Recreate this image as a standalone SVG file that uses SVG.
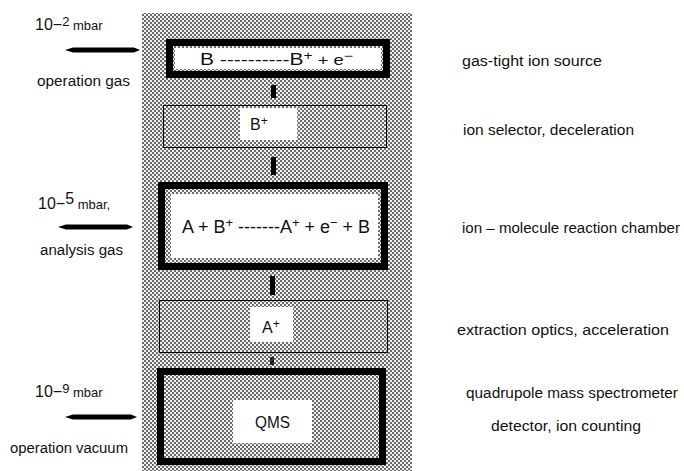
<svg xmlns="http://www.w3.org/2000/svg" width="684" height="471" viewBox="0 0 684 471">
<defs>
<pattern id="dots" width="4" height="4" patternUnits="userSpaceOnUse">
<rect width="4" height="4" fill="#f2f2f2"/>
<rect x="0" y="0" width="2" height="2" fill="#6a6a6a"/>
<rect x="2" y="2" width="2" height="2" fill="#6a6a6a"/>
</pattern>
<style>
text{font-family:"Liberation Sans",Arial,sans-serif;fill:#111}
.lab{font-size:14px}
.box{font-size:16px}
.thick{fill:url(#dots);stroke:#000;stroke-width:7}
.thin{fill:url(#dots);stroke:#000;stroke-width:1}
.patch{fill:#fff}
.bar{fill:#000}
</style>
</defs>
<rect width="684" height="471" fill="#fff"/>
<rect x="142" y="13" width="270" height="458" fill="url(#dots)"/>

<g id="connectors">
<rect class="bar" x="271" y="85" width="5" height="13"/>
<rect class="bar" x="271" y="157" width="5" height="18"/>
<rect class="bar" x="270" y="276" width="5" height="19"/>
<rect class="bar" x="270" y="357" width="4" height="8" opacity="0.8"/>
<path class="bar" d="M65,50 L73,47.5 L134,47.5 L140,50 L134,52.5 L73,52.5 Z"/>
<path class="bar" d="M58,227 L66,224.5 L127,224.5 L133,227 L127,229.5 L66,229.5 Z"/>
<path class="bar" d="M65,417 L73,414.5 L131,414.5 L137,417 L131,419.5 L73,419.5 Z"/>
</g>

<g id="ion-source">
<rect class="thick" x="169.5" y="42.5" width="217" height="32"/>
<rect class="patch" x="175" y="48" width="206" height="21"/>
<text class="box" x="200" y="65" textLength="153" lengthAdjust="spacingAndGlyphs">B ----------B<tspan font-size="12" dy="-5">+</tspan><tspan font-size="14" dy="5"> + e</tspan><tspan font-size="12" dy="-5">−</tspan></text>
</g>

<g id="ion-selector">
<rect class="thin" x="163.5" y="105.5" width="223" height="42"/>
<rect class="patch" x="240" y="108" width="57" height="32"/>
<text class="box" x="250" y="130">B<tspan font-size="12" dy="-5">+</tspan></text>
</g>

<g id="reaction-chamber">
<rect class="thick" x="161.5" y="185.5" width="223" height="81"/>
<rect class="patch" x="171" y="194" width="207" height="64"/>
<text x="182" y="233" font-size="18" textLength="188" lengthAdjust="spacingAndGlyphs">A + B<tspan font-size="13" dy="-6">+</tspan><tspan dy="6"> -------A</tspan><tspan font-size="13" dy="-6">+</tspan><tspan dy="6"> + e</tspan><tspan font-size="13" dy="-6">−</tspan><tspan dy="6"> + B</tspan></text>
</g>

<g id="extraction-optics">
<rect class="thin" x="159.5" y="300.5" width="228" height="52"/>
<rect class="patch" x="250" y="307" width="43" height="35"/>
<text class="box" x="262" y="333">A<tspan font-size="12" dy="-5">+</tspan></text>
</g>

<g id="qms">
<rect class="thick" x="160.5" y="371.5" width="222" height="90"/>
<rect class="patch" x="233" y="400" width="79" height="43"/>
<text class="box" x="255" y="428" textLength="35" lengthAdjust="spacingAndGlyphs">QMS</text>
</g>

<g id="left-labels">
<text x="35" y="30" font-size="16">10−<tspan font-size="13" dy="-4">2</tspan><tspan font-size="13" dy="4"> mbar</tspan></text>
<text class="lab" x="37" y="86" textLength="93" lengthAdjust="spacingAndGlyphs">operation gas</text>
<text x="38" y="209" font-size="16">10−<tspan font-size="16" dy="-5">5</tspan><tspan font-size="13" dy="5"> mbar,</tspan></text>
<text class="lab" x="40" y="255" textLength="83" lengthAdjust="spacingAndGlyphs">analysis gas</text>
<text x="35" y="397" font-size="16">10−<tspan font-size="13" dy="-4">9</tspan><tspan font-size="13" dy="4"> mbar</tspan></text>
<text class="lab" x="10" y="453" textLength="118" lengthAdjust="spacingAndGlyphs">operation vacuum</text>
</g>

<g id="right-labels">
<text class="lab" x="462" y="66" textLength="140" lengthAdjust="spacingAndGlyphs">gas-tight ion source</text>
<text class="lab" x="463" y="135" textLength="171" lengthAdjust="spacingAndGlyphs">ion selector, deceleration</text>
<text class="lab" x="462" y="233" textLength="218" lengthAdjust="spacingAndGlyphs">ion – molecule reaction chamber</text>
<text class="lab" x="457" y="335" textLength="212" lengthAdjust="spacingAndGlyphs">extraction optics, acceleration</text>
<text class="lab" x="466" y="398" textLength="212" lengthAdjust="spacingAndGlyphs">quadrupole mass spectrometer</text>
<text class="lab" x="491" y="431" textLength="150" lengthAdjust="spacingAndGlyphs">detector, ion counting</text>
</g>
</svg>
